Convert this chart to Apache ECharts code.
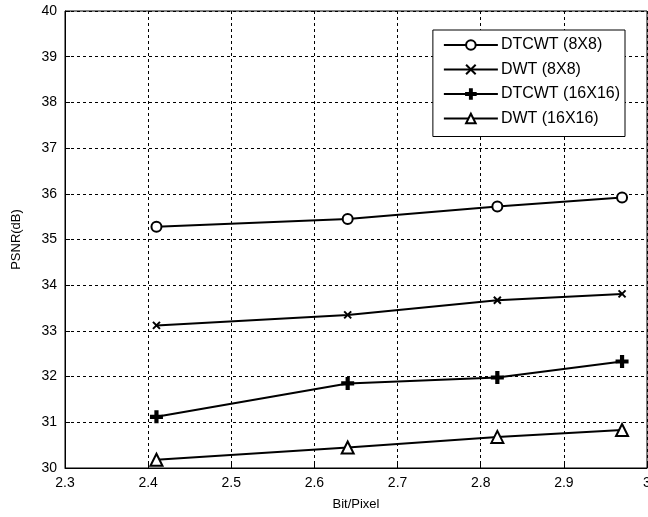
<!DOCTYPE html>
<html>
<head>
<meta charset="utf-8">
<script src="https://cdn.jsdelivr.net/npm/echarts@6/dist/echarts.min.js"></script>
<style>
html, body { margin: 0; padding: 0; background: #fff; }
#chart { width: 648px; height: 517px; }
</style>
</head>
<body>
<div id="chart"></div>
<script>
var bitRates = [2.41, 2.64, 2.82, 2.97];
var dtcwt8 = [35.28, 35.45, 35.72, 35.92];
var dwt8 = [33.12, 33.35, 33.67, 33.81];
var dtcwt16 = [31.12, 31.85, 31.98, 32.33];
var dwt16 = [30.18, 30.45, 30.68, 30.83];
var seriesNames = ["DTCWT (8X8)", "DWT (8X8)", "DTCWT (16X16)", "DWT (16X16)"];

var crossPath = "path://M0,0L10,10M10,0L0,10";
var plusPath = "path://M4,0L6,0L6,4L10,4L10,6L6,6L6,10L4,10L4,6L0,6L0,4L4,4Z";

function pairs(values) {
    var out = [];
    for (var i = 0; i < bitRates.length; i++) {
        out.push([bitRates[i], values[i]]);
    }
    return out;
}

function lineSeries(name, values, symbol, size, fill) {
    return {
        name: name,
        type: "line",
        data: pairs(values),
        symbol: symbol,
        symbolSize: size,
        showAllSymbol: true,
        lineStyle: {color: "#000", width: 2},
        itemStyle: {color: fill, borderColor: "#000", borderWidth: 2},
        emphasis: {disabled: true}
    };
}

var chart = echarts.init(document.getElementById("chart"));
var option = {
    backgroundColor: "#fff",
    animation: false,
    textStyle: {fontFamily: "Liberation Sans"},
    grid: {
        left: 65,
        top: 11,
        right: 1,
        bottom: 49,
        outerBoundsMode: "none",
        show: true,
        borderColor: "#000",
        borderWidth: 1
    },
    legend: {
        orient: "vertical",
        right: 23,
        top: 30,
        padding: [7, 5, 10, 10],
        itemGap: 8.5,
        itemWidth: 54,
        itemHeight: 12,
        backgroundColor: "#fff",
        borderColor: "#000",
        borderWidth: 1,
        borderRadius: 0,
        textStyle: {color: "#000", fontSize: 16, fontFamily: "Liberation Sans", padding: [0, 0, 0, -2]},
        data: seriesNames
    },
    xAxis: {
        type: "value",
        min: 2.3,
        max: 3,
        interval: 0.1,
        name: "Bit/Pixel",
        nameLocation: "middle",
        nameGap: 30,
        nameTextStyle: {color: "#000", fontSize: 13},
        axisLine: {lineStyle: {color: "#000"}},
        axisTick: {inside: true, length: 5, lineStyle: {color: "#000"}},
        axisLabel: {color: "#000", fontSize: 14, margin: 8,
            formatter: function (v) { return String(Math.round(v * 10) / 10); }},
        splitLine: {show: true, lineStyle: {color: "#000", type: [3, 3], width: 1}}
    },
    yAxis: {
        type: "value",
        min: 30,
        max: 40,
        interval: 1,
        name: "PSNR(dB)",
        nameLocation: "middle",
        nameGap: 42,
        nameTextStyle: {color: "#000", fontSize: 13},
        axisLine: {lineStyle: {color: "#000"}},
        axisTick: {inside: true, length: 5, lineStyle: {color: "#000"}},
        axisLabel: {color: "#000", fontSize: 14, margin: 8},
        splitLine: {show: true, lineStyle: {color: "#000", type: [3, 3], width: 1}}
    },
    series: [
        lineSeries(seriesNames[0], dtcwt8, "circle", 10, "#fff"),
        lineSeries(seriesNames[1], dwt8, crossPath, 7, "#000"),
        lineSeries(seriesNames[2], dtcwt16, plusPath, 11, "#000"),
        lineSeries(seriesNames[3], dwt16, "triangle", 12, "#fff")
    ]
};
chart.setOption(option);
</script>
</body>
</html>
